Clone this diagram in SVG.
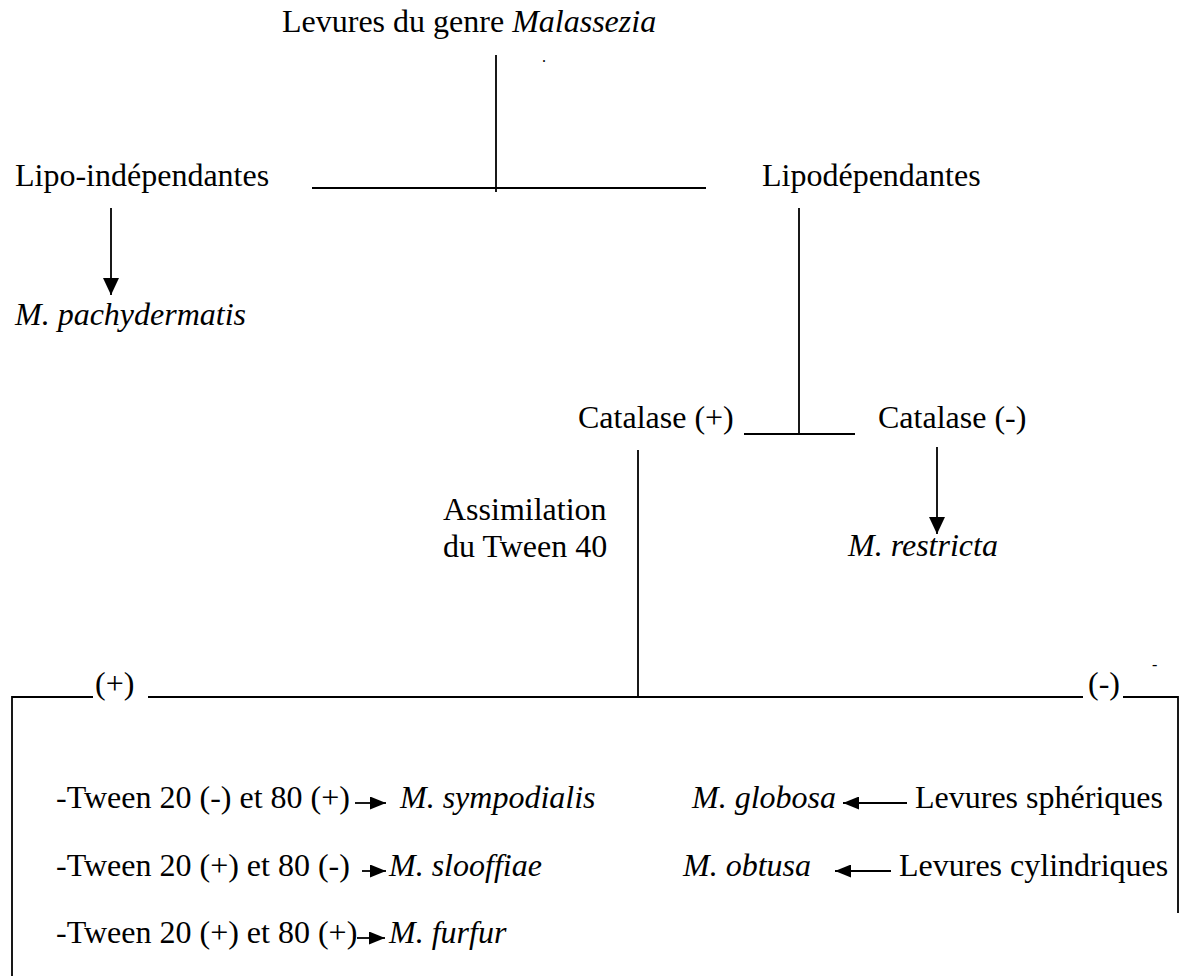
<svg xmlns="http://www.w3.org/2000/svg" width="1180" height="976" viewBox="0 0 1180 976">
<style>
text{font-family:"Liberation Serif","Times New Roman",serif;font-size:32px;fill:#000}
.i{font-style:italic}
.s{font-size:16px}
line,polyline{stroke:#000;stroke-width:1.8;fill:none}
</style>
<defs>
<marker id="big" markerUnits="userSpaceOnUse" markerWidth="17" markerHeight="16" refX="17" refY="8" orient="auto"><path d="M0,0L17,8L0,16z" fill="#000"/></marker>
<marker id="sm" markerUnits="userSpaceOnUse" markerWidth="16" markerHeight="13" refX="16" refY="6.5" orient="auto"><path d="M0,0L16,6.5L0,13z" fill="#000"/></marker>
</defs>
<rect width="1180" height="976" fill="#fff"/>
<g id="connectors">
<line x1="496" y1="55" x2="496" y2="192"/>
<line x1="312" y1="188" x2="706" y2="188"/>
<line x1="111" y1="208" x2="111" y2="295" marker-end="url(#big)"/>
<line x1="799" y1="208" x2="799" y2="434"/>
<line x1="744" y1="434" x2="855" y2="434"/>
<line x1="937" y1="447" x2="937" y2="534" marker-end="url(#big)"/>
<line x1="638" y1="450" x2="638" y2="697"/>
<polyline points="12,976 12,697 93,697"/>
<line x1="148" y1="697" x2="1083" y2="697"/>
<polyline points="1123,697 1178,697 1178,913"/>
<line x1="355" y1="803" x2="386" y2="803" marker-end="url(#sm)"/>
<line x1="362" y1="871" x2="386" y2="871" marker-end="url(#sm)"/>
<line x1="357" y1="938" x2="385" y2="938" marker-end="url(#sm)"/>
<line x1="907" y1="803" x2="843" y2="803" marker-end="url(#sm)"/>
<line x1="891" y1="871" x2="835" y2="871" marker-end="url(#sm)"/>
</g>
<g id="root"><text x="282" y="32">Levures du genre <tspan class="i">Malassezia</tspan></text></g>
<g id="dot"><text class="s" x="542" y="62">.</text></g>
<g id="lipo-independantes"><text x="15" y="186">Lipo-indépendantes</text></g>
<g id="lipodependantes"><text x="762" y="186">Lipodépendantes</text></g>
<g id="pachydermatis"><text class="i" x="15" y="325">M. pachydermatis</text></g>
<g id="catalase-plus"><text x="578" y="428">Catalase (+)</text></g>
<g id="catalase-minus"><text x="878" y="428">Catalase (-)</text></g>
<g id="restricta"><text class="i" x="848" y="556">M. restricta</text></g>
<g id="assimilation"><text x="443" y="520">Assimilation</text><text x="443" y="557">du Tween 40</text></g>
<g id="dash"><text class="s" x="1152" y="670">-</text></g>
<g id="plus"><text x="95" y="694">(+)</text></g>
<g id="minus"><text x="1088" y="694">(-)</text></g>
<g id="sympodialis"><text x="56" y="808">-Tween 20 (-) et 80 (+)</text><text class="i" x="400" y="808">M. sympodialis</text></g>
<g id="slooffiae"><text x="56" y="876">-Tween 20 (+) et 80 (-)</text><text class="i" x="389" y="876">M. slooffiae</text></g>
<g id="furfur"><text x="56" y="943">-Tween 20 (+) et 80 (+)</text><text class="i" x="389" y="943">M. furfur</text></g>
<g id="globosa"><text class="i" x="692" y="808">M. globosa</text><text x="915" y="808">Levures sphériques</text></g>
<g id="obtusa"><text class="i" x="683" y="876">M. obtusa</text><text x="899" y="876">Levures cylindriques</text></g>
</svg>
